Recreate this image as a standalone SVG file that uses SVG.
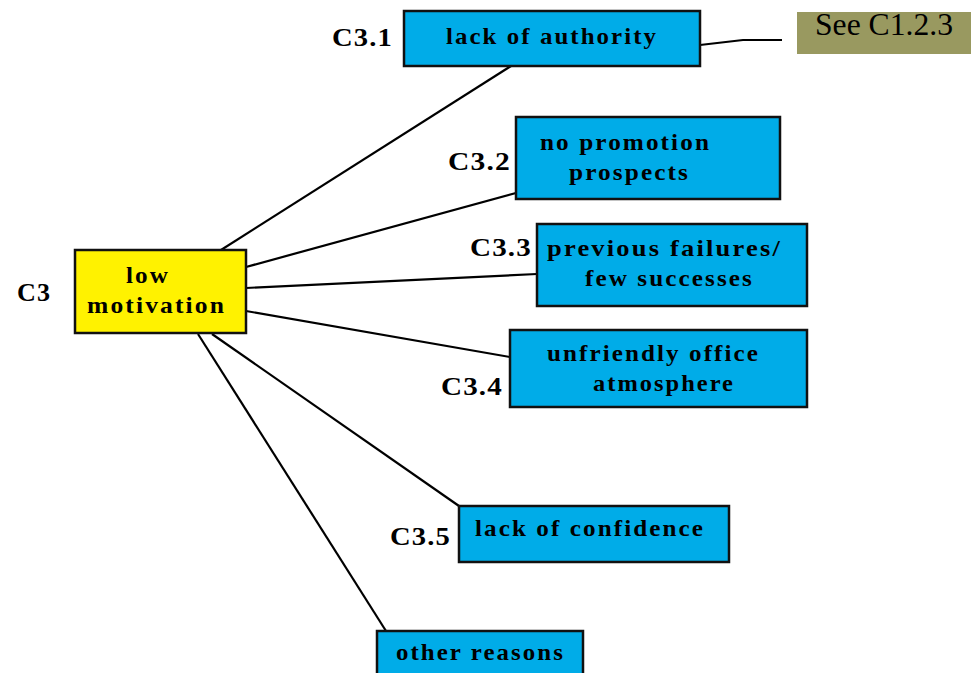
<svg xmlns="http://www.w3.org/2000/svg" width="971" height="673" viewBox="0 0 971 673">
<style>
.box{fill:#00ACE8;stroke:#111;stroke-width:2.5}
.root{fill:#FFF200;stroke:#111;stroke-width:2.5}
.t{font-family:"Liberation Serif","Times New Roman",serif;font-weight:bold;font-size:24px;letter-spacing:2px;fill:#000}
.lbl{font-family:"Liberation Serif","Times New Roman",serif;font-weight:bold;font-size:25px;letter-spacing:1px;fill:#000}
.c line,.c polyline{stroke:#000;stroke-width:2.2;fill:none}
</style>
<rect width="971" height="673" fill="#fff"/>
<g class="c" id="connectors">
<line x1="221" y1="250" x2="511" y2="66"/>
<line x1="246" y1="267" x2="516" y2="193"/>
<line x1="246" y1="288" x2="537" y2="274"/>
<line x1="246" y1="311" x2="510" y2="357"/>
<line x1="212" y1="334" x2="459" y2="506"/>
<line x1="198" y1="334" x2="386" y2="631"/>
<polyline points="700,45 743,40 782,40"/>
</g>
<g id="c3">
<rect class="root" x="75" y="250" width="171" height="83"/>
<text class="t" x="126" y="283" textLength="44" lengthAdjust="spacingAndGlyphs">low</text>
<text class="t" x="87" y="313" textLength="139" lengthAdjust="spacingAndGlyphs">motivation</text>
<text class="lbl" x="17" y="301" textLength="34" lengthAdjust="spacingAndGlyphs">C3</text>
</g>
<g id="c3-1">
<rect class="box" x="404" y="11" width="296" height="55"/>
<text class="t" x="446" y="44" textLength="212" lengthAdjust="spacingAndGlyphs">lack of authority</text>
<text class="lbl" x="332" y="46" textLength="61" lengthAdjust="spacingAndGlyphs">C3.1</text>
</g>
<g id="see">
<rect x="797" y="12" width="180" height="42" fill="#999960"/>
<text x="815" y="35" font-family="Liberation Serif,'Times New Roman',serif" font-size="31" textLength="138" lengthAdjust="spacingAndGlyphs">See C1.2.3</text>
</g>
<g id="c3-2">
<rect class="box" x="516" y="117" width="264" height="82"/>
<text class="t" x="540" y="150" textLength="171" lengthAdjust="spacingAndGlyphs">no promotion</text>
<text class="t" x="569" y="180" textLength="121" lengthAdjust="spacingAndGlyphs">prospects</text>
<text class="lbl" x="448" y="170" textLength="63" lengthAdjust="spacingAndGlyphs">C3.2</text>
</g>
<g id="c3-3">
<rect class="box" x="537" y="224" width="270" height="82"/>
<text class="t" x="547" y="256" textLength="235" lengthAdjust="spacingAndGlyphs">previous failures/</text>
<text class="t" x="585" y="286" textLength="169" lengthAdjust="spacingAndGlyphs">few successes</text>
<text class="lbl" x="470" y="256" textLength="62" lengthAdjust="spacingAndGlyphs">C3.3</text>
</g>
<g id="c3-4">
<rect class="box" x="510" y="330" width="297" height="77"/>
<text class="t" x="547" y="361" textLength="213" lengthAdjust="spacingAndGlyphs">unfriendly office</text>
<text class="t" x="593" y="391" textLength="142" lengthAdjust="spacingAndGlyphs">atmosphere</text>
<text class="lbl" x="441" y="395" textLength="62" lengthAdjust="spacingAndGlyphs">C3.4</text>
</g>
<g id="c3-5">
<rect class="box" x="459" y="506" width="270" height="56"/>
<text class="t" x="475" y="536" textLength="230" lengthAdjust="spacingAndGlyphs">lack of confidence</text>
<text class="lbl" x="390" y="545" textLength="61" lengthAdjust="spacingAndGlyphs">C3.5</text>
</g>
<g id="other">
<rect class="box" x="377" y="631" width="206" height="50"/>
<text class="t" x="396" y="660" textLength="169" lengthAdjust="spacingAndGlyphs">other reasons</text>
</g>
</svg>
